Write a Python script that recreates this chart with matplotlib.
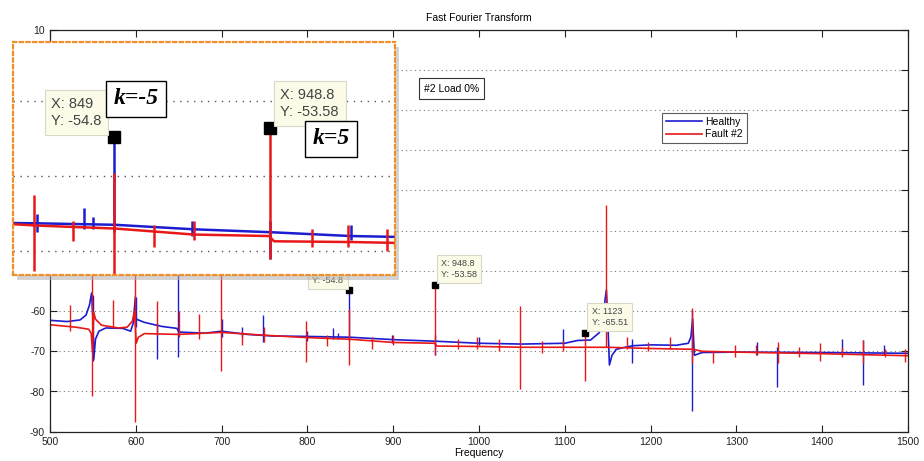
import numpy as np
import matplotlib.pyplot as plt
from matplotlib.patches import Rectangle

# ---- data ----
healthy_f = [500, 520, 535, 542, 546, 548.5, 550, 551, 553, 557, 565, 585, 594, 597, 599.5, 600.5,
             610, 630, 648, 650, 680, 700, 730, 760, 800, 850, 900, 950, 1000, 1050, 1100, 1115,
             1130, 1140, 1145, 1147, 1148.5, 1150, 1152, 1155, 1160, 1170, 1180, 1200, 1230, 1244,
             1247, 1249, 1251, 1260, 1300, 1400, 1500]
healthy_db = [-62.3, -62.6, -62.2, -61, -58.5, -55.5, -62, -72, -67, -65, -64.2, -64.3, -65, -63, -56.5, -62,
              -62.8, -63.8, -64.3, -65.2, -65.5, -65, -65.8, -66.2, -66.3, -66.5, -67.1, -67.5, -68, -68.2, -68, -67.3,
              -67.2, -65.4, -62.9, -57, -54.7, -62, -73.4, -71, -69.5, -69, -68.6, -68.4, -68.5, -68,
              -66.4, -62, -71, -70.3, -70.2, -70.3, -70.5]

fault_f = [500, 530, 545, 548, 549.5, 551, 553, 560, 580, 590, 596, 598.5, 600.5, 603, 610, 650, 700,
           750, 800, 850, 900, 948, 951, 1000, 1050, 1100, 1150, 1200, 1250, 1260, 1300, 1400, 1500]
fault_db = [-63.4, -64, -64.5, -65.5, -70, -60.3, -62, -63.5, -64.2, -64, -62.5, -60, -68, -66.5, -65.6, -65.8, -65.3,
            -66, -66.6, -67, -67.8, -68, -68.7, -68.8, -69, -69, -69, -69.3, -69.5, -70, -70.2, -70.6, -71.1]

# spikes: frequency, top, bottom
fault_spk_f = [523, 549.5, 573.5, 599.5, 625, 650, 674, 699.5, 723.5, 749, 798.5, 823, 849, 875, 900, 948.8,
               975, 998, 1023, 1048, 1073, 1098, 1123, 1148, 1172.5, 1197, 1222.5, 1248.5, 1273, 1298,
               1323, 1348, 1373, 1398, 1423, 1448, 1473, 1497]
fault_spk_top = [-58.5, -47, -57.2, -47, -57.4, -60, -60.7, -47, -65, -64, -62.5, -66, -59.6, -66.5, -66, -53.58,
                 -67, -66.5, -67, -58.8, -67.5, -67.5, -65.51, -33.6, -66.4, -67.8, -66.4, -59.3, -70, -68.5,
                 -68.5, -67.7, -69, -68, -69, -67.3, -69.5, -69.5]
fault_spk_bot = [-65, -81, -64.2, -87.5, -66, -66.5, -67, -75, -68.5, -67.8, -72.6, -68.7, -73.5, -69.5, -68.5, -71,
                 -69.5, -69.5, -70, -79.4, -70.5, -70, -77.3, -69, -69.5, -70, -69.5, -73, -73, -71.5,
                 -71, -73, -71.5, -72.5, -71.5, -73, -71.5, -72.6]

healthy_spk_f = [550, 600, 625, 649.5, 700, 723.5, 748.5, 800, 830, 836, 849, 899, 948.8, 1000, 1098,
                 1178.5, 1248.5, 1323.5, 1347.7, 1422.7, 1448, 1472]
healthy_spk_top = [-56, -56.5, -63, -47, -62, -63.9, -61, -65, -64.3, -65.5, -54.8, -66, -66, -66.5, -64.5,
                   -67, -59.7, -67.6, -69, -67, -67.3, -68.4]
healthy_spk_bot = [-72.5, -64, -72, -71.3, -66.5, -66.5, -67.6, -67.5, -67, -67, -67.5, -68, -71, -68.5, -69,
                   -73, -84.8, -71, -78.8, -71, -78.4, -71]

tip_f = [849, 948.8, 1123]
tip_db = [-54.8, -53.58, -65.51]

BLUE = '#1c1cd0'
RED = '#e81818'
W, H = 924, 461


def fx(px):
    return px / W


def fy(py):
    return 1 - py / H


def draw_traces(ax, lw, spk_lw):
    ax.plot(healthy_f, healthy_db, color=BLUE, lw=lw, label='Healthy')
    ax.vlines(healthy_spk_f, healthy_spk_bot, healthy_spk_top, color=BLUE, lw=spk_lw)
    ax.plot(fault_f, fault_db, color=RED, lw=lw, label='Fault #2')
    ax.vlines(fault_spk_f, fault_spk_bot, fault_spk_top, color=RED, lw=spk_lw)


def datatip(ax, x, y, dx, dy, ha, size, ms):
    ax.plot([x], [y], 's', color='black', ms=ms, zorder=6)
    ax.annotate(f'X: {x:g}\nY: {y:g}', xy=(x, y), xytext=(dx, dy), textcoords='offset pixels',
                ha=ha, va='bottom', multialignment='left', fontsize=size, color='#444444',
                linespacing=1.3, zorder=7,
                bbox=dict(boxstyle='square,pad=0.45', fc='#fbfbe8', ec='#d8d8c8', lw=0.8))


plt.rcParams['font.family'] = ['Liberation Sans', 'DejaVu Sans']
plt.rcParams['axes.unicode_minus'] = False
fig = plt.figure(figsize=(W / 100, H / 100), dpi=100)

# ---- main axes ----
ax = fig.add_axes([fx(50), fy(431.7), fx(858), (431.7 - 29.7) / H])
draw_traces(ax, 1.2, 1.0)
ax.set_xlim(500, 1500)
ax.set_ylim(-90, 10)
ax.set_xticks(np.arange(500, 1501, 100))
ax.set_yticks(np.arange(-90, 11, 10))
ax.tick_params(direction='in', top=True, right=True, labelsize=7.5, length=5, width=0.8, colors='#222222')
ax.yaxis.grid(True, ls=(0, (1, 3)), color='#777777', lw=0.8)
for s in ax.spines.values():
    s.set_linewidth(0.9)
    s.set_color('#222222')

datatip(ax, 849, -54.8, -6, 5, 'right', 6.5, 5)
datatip(ax, 948.8, -53.58, 6, 6, 'left', 6.5, 5)
datatip(ax, 1123, -65.51, 7, 6, 'left', 6.5, 5)

ax.legend(loc='upper left', bbox_to_anchor=(fx(662), fy(113)), bbox_transform=fig.transFigure,
          fontsize=7.5, frameon=True, fancybox=False, edgecolor='#333333', handlelength=3.5,
          borderpad=0.35, labelspacing=0.25, handletextpad=0.3, borderaxespad=0)
ax.get_legend().get_frame().set_linewidth(0.8)

fig.text(fx(424), fy(88.5), '#2 Load 0%', fontsize=7.5, va='center', ha='left',
         bbox=dict(boxstyle='square,pad=0.5', fc='white', ec='#333333', lw=0.8))
fig.text(fx(479), fy(18), 'Fast Fourier Transform', fontsize=7.5, ha='center', va='center')
fig.text(fx(479), fy(453), 'Frequency', fontsize=7.5, ha='center', va='center')

# ---- zoomed inset ----
shadow = Rectangle((fx(17), fy(280)), fx(382), 233 / H, transform=fig.transFigure,
                   fc='#b0b0b0', ec='none', alpha=0.55, zorder=4)
fig.patches.append(shadow)
axi = fig.add_axes([fx(13), fy(275), fx(382), 233 / H], zorder=5)
draw_traces(axi, 1.8, 1.8)
axi.set_xlim(785, 1028)
axi.set_ylim(-73.2, -42.1)
axi.set_xticks([])
axi.set_yticks([-70, -60, -50])
axi.tick_params(length=0, labelleft=False)
axi.yaxis.grid(True, ls=(0, (1, 4)), color='#555555', lw=1.0)
for s in axi.spines.values():
    s.set_color('#f0902c')
    s.set_linestyle((0, (1.5, 1.5)))
    s.set_linewidth(1.6)

datatip(axi, 849, -54.8, -12, 9, 'right', 10.5, 9)
datatip(axi, 948.8, -53.58, 10, 9, 'left', 10.5, 9)

kfont = dict(family='Liberation Serif', weight='bold', style='italic', fontsize=17, zorder=8,
             bbox=dict(boxstyle='square,pad=0.3', fc='white', ec='black', lw=1.0))
axi.text((136 - 13) / 382, (275 - 99) / 233, 'k=-5', transform=axi.transAxes, ha='center', va='center', **kfont)
axi.text((331 - 13) / 382, (275 - 139) / 233, 'k=5', transform=axi.transAxes, ha='center', va='center', **kfont)

fig.savefig('out.png', dpi=100)
